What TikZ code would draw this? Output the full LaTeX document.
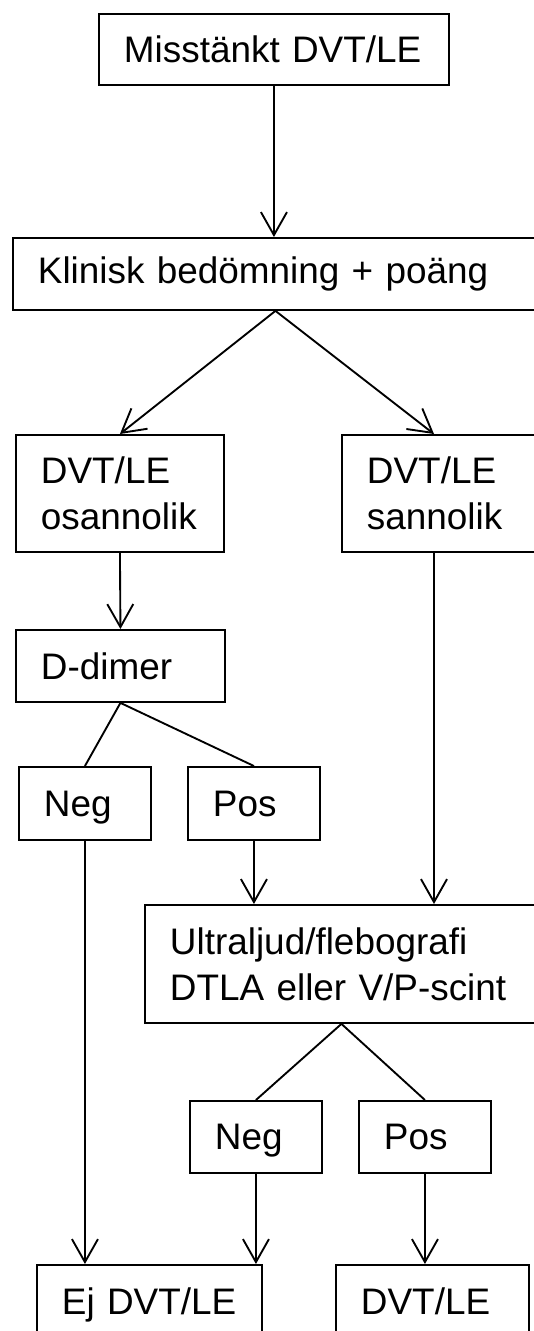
\documentclass[tikz,border=0pt]{standalone}
\usepackage{fontspec}
\setmainfont{Liberation Sans}
\usetikzlibrary{arrows.meta}
\begin{document}
\begin{tikzpicture}[x=0.03cm,y=-0.03cm,
    box/.style={draw,line width=1.6pt,anchor=north west,align=left,inner xsep=0.75cm,inner ysep=0pt,font=\fontsize{31.5pt}{39.3pt}\selectfont},
    onebox/.style={box,text depth=0pt},
    stream/.style={-{Straight Barb[length=0.69cm,width=0.78cm]},line width=1.6pt},
    branch/.style={line width=1.6pt}]
    \useasboundingbox (0,0) rectangle (534,1331);
    %boxes
    \node[onebox,text width=9cm,minimum height=2.13cm] (suspect) at (98,13) {Misstänkt DVT/LE};
    \node[box,text width=14.25cm,minimum height=2.16cm] (clinical) at (12,237) {Klinisk bedömning + poäng};
    \node[box,text width=4.74cm,minimum height=3.51cm] (unlikely) at (15,434) {DVT/LE\\osannolik};
    \node[box,text width=4.62cm,minimum height=3.51cm] (likely) at (341,434) {DVT/LE\\sannolik};
    \node[onebox,text width=4.77cm,minimum height=2.16cm] (ddimer) at (15,629) {D-dimer};
    \node[onebox,text width=2.46cm,minimum height=2.19cm] (dneg) at (18,766) {Neg};
    \node[onebox,text width=2.46cm,minimum height=2.19cm] (dpos) at (187,766) {Pos};
    \node[box,text width=10.29cm,minimum height=3.54cm] (imaging) at (144,904) {Ultraljud/flebografi\\DTLA eller V/P-scint};
    \node[onebox,text width=2.46cm,minimum height=2.16cm] (ineg) at (189,1100) {Neg};
    \node[onebox,text width=2.46cm,minimum height=2.16cm] (ipos) at (358,1100) {Pos};
    \node[onebox,text width=5.25cm,minimum height=2.16cm] (nodvt) at (36,1264) {Ej DVT/LE};
    \node[onebox,text width=4.29cm,minimum height=2.16cm] (dvt) at (335,1264) {DVT/LE};
    %flow
    \coordinate (likely col) at (434,0);
    \draw[stream] (suspect.south) -- (suspect.south |- clinical.north);
    \draw[stream] (clinical.south) -- (unlikely.north);
    \draw[stream] (clinical.south) -- (likely col |- likely.north);
    \draw[stream] (unlikely.south) -- (ddimer.north);
    \draw[branch] (ddimer.south) -- (dneg.north);
    \draw[branch] (ddimer.south) -- (dpos.north);
    \draw[stream] (dneg.south) -- (dneg.south |- nodvt.north);
    \draw[stream] (dpos.south) -- (dpos.south |- imaging.north);
    \draw[stream] (likely col |- likely.south) -- (likely col |- imaging.north);
    \draw[branch] (imaging.south) -- (ineg.north);
    \draw[branch] (imaging.south) -- (ipos.north);
    \draw[stream] (ineg.south) -- (ineg.south |- nodvt.north);
    \draw[stream] (ipos.south) -- (ipos.south |- dvt.north);
\end{tikzpicture}
\end{document}
